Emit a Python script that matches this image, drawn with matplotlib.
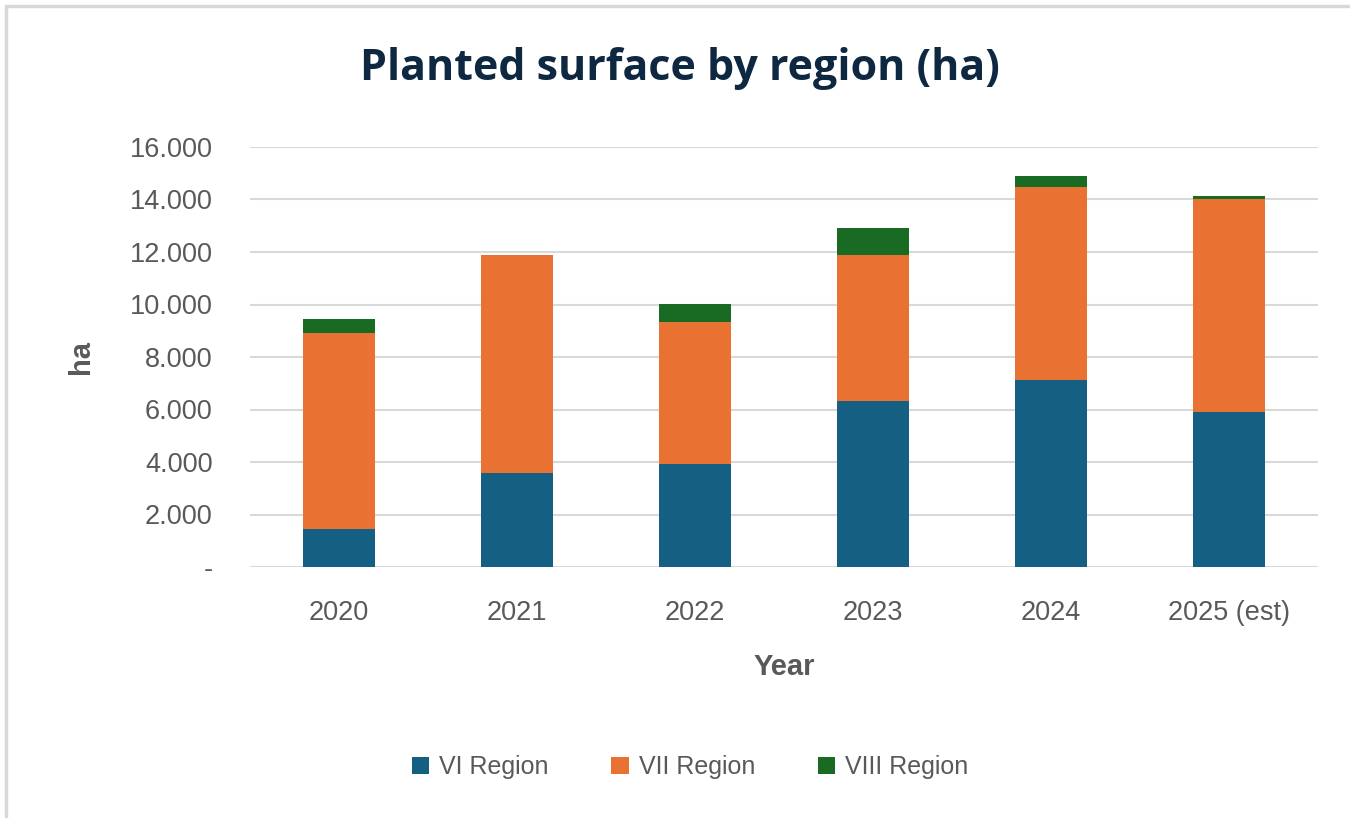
import matplotlib
matplotlib.use("Agg")
from matplotlib import pyplot as plt
from matplotlib.patches import Rectangle
import numpy as np

years = ["2020", "2021", "2022", "2023", "2024", "2025 (est)"]
vi_region = [1440, 3570, 3910, 6310, 7140, 5900]
vii_region = [7480, 8310, 5420, 5570, 7350, 8110]
viii_region = [540, 0, 690, 1030, 420, 140]
yticks = [0, 2000, 4000, 6000, 8000, 10000, 12000, 14000, 16000]
ytick_labels = ["-", "2.000", "4.000", "6.000", "8.000", "10.000", "12.000", "14.000", "16.000"]

plt.rcParams["font.family"] = ["Liberation Sans", "DejaVu Sans"]
gray = "#595959"

fig = plt.figure(figsize=(13.5, 8.18), dpi=100)
W, H = 1350, 818
ax = fig.add_axes([250 / W, 1 - 567 / H, (1318 - 250) / W, (567 - 147) / H])

x = np.arange(len(years))
bottom2 = np.array(vi_region)
bottom3 = bottom2 + np.array(vii_region)
ax.bar(x, vi_region, width=0.4, color="#156082", label="VI Region", zorder=3)
ax.bar(x, vii_region, width=0.4, bottom=bottom2, color="#E97132", label="VII Region", zorder=3)
ax.bar(x, viii_region, width=0.4, bottom=bottom3, color="#196B24", label="VIII Region", zorder=3)

ax.set_xlim(-0.5, len(years) - 0.5)
ax.set_ylim(0, 16000)
ax.set_yticks(yticks)
ax.set_yticklabels(ytick_labels)
ax.set_xticks(x)
ax.set_xticklabels(years)
ax.tick_params(axis="y", length=0, pad=27, labelsize=19.5, labelcolor=gray)
ax.tick_params(axis="x", length=0, pad=24, labelsize=19.5, labelcolor=gray)
ax.grid(axis="y", color="#D9D9D9", linewidth=1.5, zorder=0)
for s in ax.spines.values():
    s.set_visible(False)

ax.set_xlabel("Year", fontsize=21, fontweight="bold", color=gray, labelpad=19)
ax.set_ylabel("ha", fontsize=21, fontweight="bold", color=gray, labelpad=25)

fig.text(680 / W, 1 - 68 / H, "Planted surface by region (ha)", ha="center", va="center",
         fontsize=31, fontweight="bold", color="#0E2841", family=["Open Sans", "DejaVu Sans"])

fig.legend(loc="center", bbox_to_anchor=(690 / W, 1 - 767 / H), ncol=3, frameon=False,
           fontsize=18, labelcolor=gray, handlelength=0.7, handleheight=0.7,
           handletextpad=0.4, columnspacing=2.5)

# outer frame (top and left edges visible)
fig.patches.append(Rectangle((6 / W, -0.1), 1.2, 1 - 6 / H + 0.1, transform=fig.transFigure,
                             fill=False, edgecolor="#D9D9D9", linewidth=2.5))

fig.savefig("out.png", dpi=100)
